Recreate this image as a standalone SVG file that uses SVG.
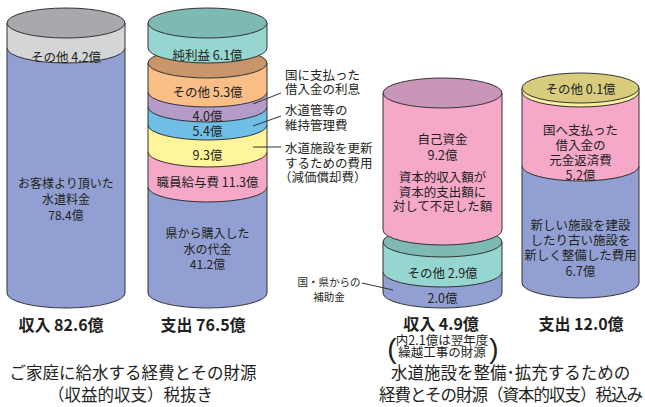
<svg xmlns="http://www.w3.org/2000/svg" width="645" height="407" viewBox="0 0 645 407">
<style>
.o{stroke:#333;stroke-width:1;stroke-linejoin:round}
.t{font-family:"Noto Sans CJK JP","Noto Sans",sans-serif;fill:#231f20;font-size:12px;text-anchor:middle}
.s{font-size:12.5px}
.lb{font-family:"Noto Sans CJK JP","Noto Sans",sans-serif;fill:#231f20;font-size:12.5px}
.tot{font-family:"Noto Sans CJK JP","Noto Sans",sans-serif;fill:#231f20;font-size:16px;font-weight:bold;text-anchor:middle}
.cap{font-family:"Noto Sans CJK JP","Noto Sans",sans-serif;fill:#231f20;font-size:16.5px}
.blue{fill:#919fd2}.pink{fill:#f5a8c8}.tealb{fill:#96d6d0}.tealt{fill:#7eb9b4}
.orng{fill:#fabe87}.brwn{fill:#c8966a}.purp{fill:#b49bc8}.lblu{fill:#6ebee6}.yell{fill:#fff59b}
.grayt{fill:#a8a9ac}.grayb{fill:#d4d5d7}.mauv{fill:#c896b9}.oliv{fill:#d7cd7d}
.ldr{stroke:#333;stroke-width:1;fill:none}
</style>

<g id="cyl-income-operating">
  <path class="o blue" d="M7 48 L7 293 A59 15 0 0 0 125 293 L125 48 Z"/>
  <path class="o grayb" d="M7 23 L7 48 A59 15 0 0 0 125 48 L125 23 Z"/>
  <ellipse class="o grayt" cx="66" cy="23" rx="59" ry="15"/>
  <text class="t s" x="66" y="62">その他 4.2億</text>
  <text class="t" x="66" y="188">お客様より頂いた</text>
  <text class="t" x="66" y="204">水道料金</text>
  <text class="t" x="66" y="220">78.4億</text>
</g>

<g id="cyl-expense-operating">
  <path class="o blue" d="M148 187 L148 293 A59.5 15 0 0 0 267 293 L267 187 Z"/>
  <path class="o pink" d="M148 152 L148 187 A59.5 15 0 0 0 267 187 L267 152 Z"/>
  <path class="o yell" d="M148 125 L148 152 A59.5 15 0 0 0 267 152 L267 125 Z"/>
  <path class="o lblu" d="M148 107 L148 125 A59.5 15 0 0 0 267 125 L267 107 Z"/>
  <path class="o purp" d="M148 92 L148 107 A59.5 15 0 0 0 267 107 L267 92 Z"/>
  <path class="o orng" d="M148 63 L148 92 A59.5 15 0 0 0 267 92 L267 63 Z"/>
  <ellipse class="o brwn" cx="207.5" cy="63" rx="59.5" ry="15"/>
  <path class="o tealb" d="M148 23 L148 48 A59.5 15 0 0 0 267 48 L267 23 Z"/>
  <ellipse class="o tealt" cx="207.5" cy="23" rx="59.5" ry="15"/>
  <text class="t s" x="207.5" y="60">純利益 6.1億</text>
  <text class="t s" x="207.5" y="97">その他 5.3億</text>
  <text class="t s" x="207.5" y="120.5">4.0億</text>
  <text class="t s" x="207.5" y="135.5">5.4億</text>
  <text class="t s" x="207.5" y="159.5">9.3億</text>
  <text class="t s" x="207.5" y="186.5">職員給与費 11.3億</text>
  <text class="t" x="207.5" y="237.5">県から購入した</text>
  <text class="t" x="207.5" y="253.5">水の代金</text>
  <text class="t" x="207.5" y="268.5">41.2億</text>
</g>

<g id="label-interest">
  <text class="lb" x="285" y="80">国に支払った</text>
  <text class="lb" x="285" y="94">借入金の利息</text>
</g>
<g id="label-maintenance">
  <text class="lb" x="285" y="115">水道管等の</text>
  <text class="lb" x="285" y="130">維持管理費</text>
</g>
<g id="label-depreciation">
  <text class="lb" x="285" y="153">水道施設を更新</text>
  <text class="lb" x="285" y="168">するための費用</text>
  <text class="lb" x="279" y="182">（減価償却費）</text>
</g>

<g id="cyl-income-capital">
  <path class="o blue" d="M383 272 L383 293 A59.5 15 0 0 0 502 293 L502 272 Z"/>
  <path class="o tealb" d="M383 242 L383 272 A59.5 15 0 0 0 502 272 L502 242 Z"/>
  <ellipse class="o tealt" cx="442.5" cy="242" rx="59.5" ry="15"/>
  <path class="o pink" d="M383 93 L383 230 A59.5 15 0 0 0 502 230 L502 93 Z"/>
  <ellipse class="o mauv" cx="442.5" cy="93" rx="59.5" ry="15"/>
  <text class="t s" x="442.5" y="144">自己資金</text>
  <text class="t s" x="442.5" y="160">9.2億</text>
  <text class="t s" x="442.5" y="182">資本的収入額が</text>
  <text class="t s" x="442.5" y="197">資本的支出額に</text>
  <text class="t s" x="442.5" y="211">対して不足した額</text>
  <text class="t s" x="442.5" y="278">その他 2.9億</text>
  <text class="t s" x="442.5" y="302.5">2.0億</text>
</g>

<g id="label-subsidy">
  <text class="t" style="font-size:10.5px" x="329" y="286">国・県からの</text>
  <text class="t" style="font-size:10.5px" x="329" y="301">補助金</text>
</g>

<g id="cyl-expense-capital">
  <path class="o blue" d="M522 166 L522 283 A58.5 15 0 0 0 639 283 L639 166 Z"/>
  <path class="o pink" d="M522 92 L522 166 A58.5 15 0 0 0 639 166 L639 92 Z"/>
  <path class="o" fill="#faf0a0" d="M522 88 L522 92 A58.5 15 0 0 0 639 92 L639 88 Z"/>
  <ellipse class="o oliv" cx="580.5" cy="88" rx="58.5" ry="15"/>
  <text class="t s" x="580.5" y="94">その他 0.1億</text>
  <text class="t s" x="580.5" y="135">国へ支払った</text>
  <text class="t s" x="580.5" y="150">借入金の</text>
  <text class="t s" x="580.5" y="165">元金返済費</text>
  <text class="t s" x="580.5" y="180">5.2億</text>
  <text class="t s" x="580.5" y="230">新しい施設を建設</text>
  <text class="t s" x="580.5" y="245">したり古い施設を</text>
  <text class="t s" x="580.5" y="260">新しく整備した費用</text>
  <text class="t s" x="580.5" y="276">6.7億</text>
</g>

<g id="connectors">
  <line class="ldr" x1="253" y1="104" x2="281" y2="93"/>
  <line class="ldr" x1="253" y1="126" x2="281" y2="116"/>
  <line class="ldr" x1="253" y1="147" x2="281" y2="147"/>
  <line class="ldr" x1="362" y1="283" x2="393" y2="290"/>
</g>

<g id="totals">
  <text class="tot" x="61" y="331">収入 82.6億</text>
  <text class="tot" x="203" y="331">支出 76.5億</text>
  <text class="tot" x="441" y="330">収入 4.9億</text>
  <text class="tot" x="581" y="330">支出 12.0億</text>
  <text class="t" style="font-size:12.5px" x="442" y="345">内2.1億は翌年度</text>
  <text class="t" style="font-size:12.5px" x="442" y="357">繰越工事の財源</text>
  <text class="t" style="font-size:28px;font-family:'Liberation Sans',sans-serif" x="392" y="358">(</text>
  <text class="t" style="font-size:28px;font-family:'Liberation Sans',sans-serif" x="494" y="358">)</text>
</g>

<g id="captions">
  <text class="cap" x="133" y="379" text-anchor="middle">ご家庭に給水する経費とその財源</text>
  <text class="cap" x="130.5" y="401" text-anchor="middle">（収益的収支）税抜き</text>
  <text class="cap" x="391" y="379">水道施設を整備･拡充するための</text>
  <text class="cap" x="379" y="401" textLength="264" lengthAdjust="spacing">経費とその財源（資本的収支）税込み</text>
</g>
</svg>
